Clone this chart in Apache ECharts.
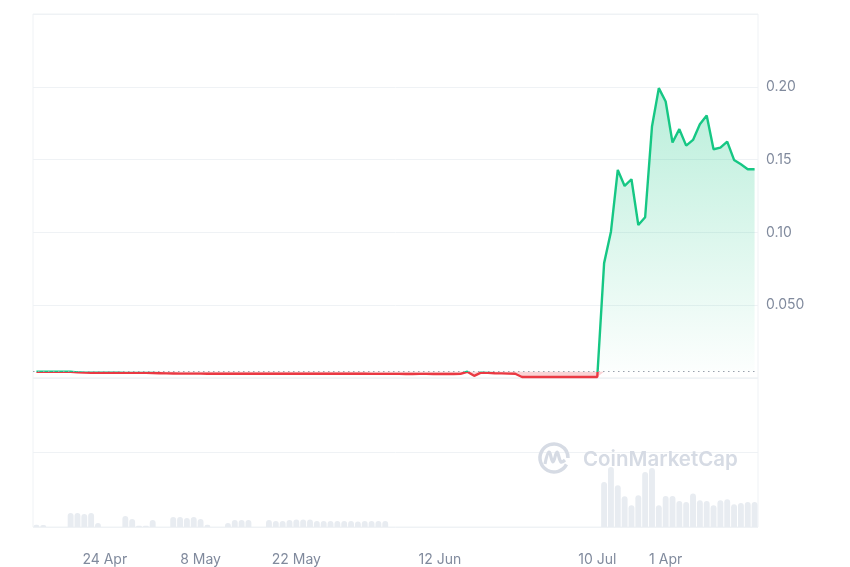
<!DOCTYPE html>
<html>
<head>
<meta charset="utf-8">
<script src="https://cdn.jsdelivr.net/npm/echarts@6/dist/echarts.min.js"></script>
<style>
  html, body { margin: 0; padding: 0; background: #ffffff; }
  #chart { width: 850px; height: 567px; }
</style>
</head>
<body>
<div id="chart"></div>
<script>
// ---- data ----
const price = [
  0.0043, 0.0043, 0.0043, 0.0043, 0.0043, 0.0043, 0.0039, 0.0037, 0.0036, 0.0036,
  0.0036, 0.0036, 0.0036, 0.0035, 0.0035, 0.0035, 0.0035, 0.0034, 0.0033, 0.0032,
  0.0031, 0.0030, 0.0030, 0.0030, 0.0030, 0.0029, 0.0029, 0.0029, 0.0029, 0.0029,
  0.0029, 0.0029, 0.0029, 0.0029, 0.0029, 0.0029, 0.0029, 0.0029, 0.0029, 0.0029,
  0.0029, 0.0029, 0.0029, 0.0029, 0.0029, 0.0029, 0.0029, 0.0029, 0.0029, 0.0028,
  0.0028, 0.0028, 0.0028, 0.0028, 0.0027, 0.0027, 0.0028, 0.0028, 0.0027, 0.0027,
  0.0027, 0.0027, 0.0028, 0.0043, 0.0015, 0.0037, 0.0035, 0.0033, 0.0032, 0.0030,
  0.0029, 0.0007, 0.0007, 0.0007, 0.0007, 0.0007, 0.0007, 0.0007, 0.0007, 0.0007,
  0.0007, 0.0007, 0.0007, 0.0789, 0.1005, 0.1429, 0.1319, 0.1365, 0.1051, 0.1104,
  0.1727, 0.1991, 0.1899, 0.1617, 0.1709, 0.1596, 0.1635, 0.1743, 0.1803, 0.1571,
  0.1582, 0.1624, 0.1498, 0.1468, 0.1434, 0.1434
];
const volume = [
  1.5, 1.3, 0, 0, 0, 9.4, 9.4, 8.7, 9.4, 2.7,
  0, 0, 0, 7.4, 5.4, 0.9, 0.9, 4.7, 0, 0,
  6.7, 6.7, 6.0, 6.7, 5.4, 1.5, 0, 0, 2.7, 4.7,
  4.7, 4.7, 0, 0, 4.7, 4.0, 4.0, 4.7, 5.0, 5.0,
  5.0, 4.0, 4.0, 4.0, 4.0, 4.0, 4.0, 3.7, 4.0, 4.0,
  4.0, 4.0, 0, 0, 0, 0, 0, 0, 0, 0,
  0, 0, 0, 0, 0, 0, 0, 0, 0, 0,
  0, 0, 0, 0, 0, 0, 0, 0, 0, 0,
  0, 0, 0, 30.2, 40.3, 28.0, 20.6, 14.6, 21.3, 36.9,
  39.6, 14.6, 20.8, 20.8, 17.4, 16.8, 22.4, 17.9, 17.4, 14.6,
  17.9, 18.6, 15.2, 16.1, 16.8, 16.8
];
const tickIndex = [10, 24, 38, 59, 82, 92];
const tickLabels = ['24 Apr', '8 May', '22 May', '12 Jun', '10 Jul', '1 Apr'];
const yTickValues = [0.05, 0.10, 0.15, 0.20];
const yTickLabels = ['0.050', '0.10', '0.15', '0.20'];

// ---- derived ----
const categories = price.map((_, i) => String(i));
const base = price[0];
const above = price.map(v => Math.max(v, base));
const below = price.map(v => Math.min(v, base));

const GREEN = '#16c784';
const RED = '#ea3943';
const GRIDC = '#eff2f5';
const TEXTC = '#808a9d';
const FONT = 'Inter, "Noto Sans", sans-serif';

const chart = echarts.init(document.getElementById('chart'), null, { renderer: 'canvas' });
chart.setOption({
  animation: false,
  backgroundColor: '#ffffff',
  grid: [
    { left: 33, right: 92, top: 14, height: 364, show: true, borderColor: GRIDC, borderWidth: 1, backgroundColor: 'transparent' },
    { left: 33, right: 92, top: 378, height: 149, show: true, borderColor: GRIDC, borderWidth: 1, backgroundColor: 'transparent' }
  ],
  xAxis: [
    { type: 'category', gridIndex: 0, data: categories, boundaryGap: true,
      axisLine: { show: false }, axisTick: { show: false }, axisLabel: { show: false }, splitLine: { show: false } },
    { type: 'category', gridIndex: 1, data: categories, boundaryGap: true,
      axisLine: { show: false }, axisTick: { show: false }, splitLine: { show: false },
      axisLabel: {
        color: TEXTC, fontSize: 14, fontFamily: FONT, margin: 26,
        interval: (idx) => tickIndex.indexOf(idx) >= 0,
        formatter: (val, idx) => { const k = tickIndex.indexOf(idx); return k >= 0 ? tickLabels[k] : ''; }
      } }
  ],
  yAxis: [
    { type: 'value', gridIndex: 0, position: 'right', min: 0, max: 0.25, interval: 0.05,
      axisLine: { show: false }, axisTick: { show: false },
      splitLine: { lineStyle: { color: GRIDC, width: 1 } },
      axisLabel: {
        color: TEXTC, fontSize: 14, fontFamily: FONT, margin: 8,
        formatter: (v) => { for (let k = 0; k < yTickValues.length; k++) { if (Math.abs(v - yTickValues[k]) < 1e-9) return yTickLabels[k]; } return ''; }
      } },
    { type: 'value', gridIndex: 1, position: 'right', min: 0, max: 100, interval: 50,
      axisLine: { show: false }, axisTick: { show: false }, axisLabel: { show: false },
      splitLine: { lineStyle: { color: GRIDC, width: 1 } } }
  ],
  series: [
    { name: 'upArea', type: 'line', xAxisIndex: 0, yAxisIndex: 0, data: above, symbol: 'none',
      lineStyle: { width: 0 }, z: 1, silent: true,
      areaStyle: { origin: base, opacity: 1,
        color: new echarts.graphic.LinearGradient(0, 0, 0, 1, [
          { offset: 0, color: 'rgba(22,199,132,0.30)' },
          { offset: 1, color: 'rgba(22,199,132,0.01)' }
        ]) } },
    { name: 'downArea', type: 'line', xAxisIndex: 0, yAxisIndex: 0, data: below, symbol: 'none',
      lineStyle: { width: 0 }, z: 1, silent: true,
      areaStyle: { origin: base, opacity: 1, color: 'rgba(234,57,67,0.22)' } },
    { name: 'price', type: 'line', xAxisIndex: 0, yAxisIndex: 0, data: price, symbol: 'none',
      lineStyle: { width: 2.4, color: GREEN }, z: 3,
      markLine: { silent: true, symbol: ['none', 'none'], label: { show: false }, precision: 8,
        lineStyle: { color: '#9aa1ad', type: [1.5, 3.5], width: 1 },
        data: [ { yAxis: base } ] } },
    { name: 'volume', type: 'bar', xAxisIndex: 1, yAxisIndex: 1, data: volume,
      barCategoryGap: '14%', itemStyle: { color: '#e8ecf1', borderRadius: [3, 3, 0, 0] }, z: 1 }
  ],
  graphic: [
    { type: 'arc', z: 100, silent: true,
      shape: { cx: 554, cy: 458, r: 14, startAngle: Math.PI * 0.15, endAngle: Math.PI * 2.0, clockwise: true },
      style: { stroke: '#d6dbe4', lineWidth: 3.5, fill: null } },
    { type: 'polyline', z: 100, silent: true,
      shape: { points: [[545, 464], [549, 452], [553, 462], [557, 452], [561, 462], [565, 460]], smooth: 0.4 },
      style: { stroke: '#d6dbe4', lineWidth: 3.2, fill: null } },
    { type: 'text', z: 100, silent: true, left: 583, top: 449,
      style: { text: 'CoinMarketCap', fill: '#d6dbe4', font: '600 20.5px Inter, "Noto Sans", sans-serif' } }
  ]
});

// colour the price line green above the start price and red below it,
// using the axis scale to find where the start price sits
const H = chart.getHeight();
const yb = chart.convertToPixel({ xAxisIndex: 0, yAxisIndex: 0 }, [0, base])[1] + 0.5;
const f = Math.min(Math.max(yb / H, 0), 1);
chart.setOption({
  series: [ {}, {}, {
    lineStyle: { color: new echarts.graphic.LinearGradient(0, 0, 0, H, [
      { offset: 0, color: GREEN }, { offset: f, color: GREEN },
      { offset: f, color: RED }, { offset: 1, color: RED }
    ], true) }
  } ]
});
</script>
</body>
</html>
